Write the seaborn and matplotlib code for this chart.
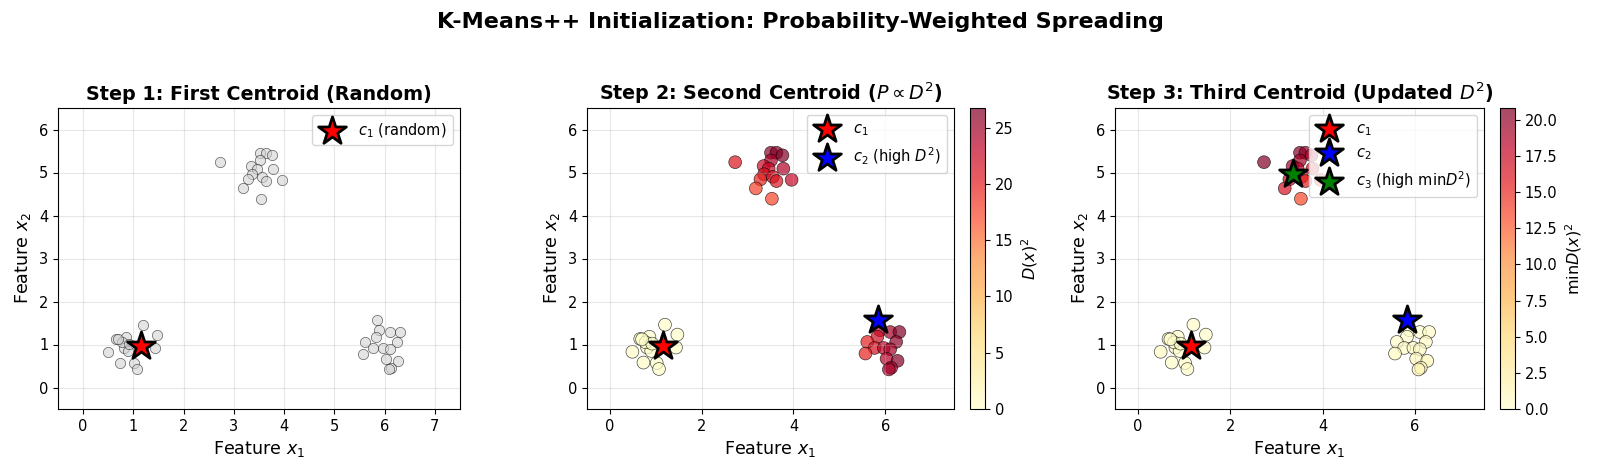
import numpy as np
import seaborn as sns
import matplotlib.pyplot as plt
from matplotlib.cm import ScalarMappable

# points, three blobs
blob_a_x = [0.49, 0.66, 0.73, 0.86, 0.81, 0.90, 0.78, 1.02, 1.07, 1.20, 1.47, 1.44, 0.92, 1.15, 0.70]
blob_a_y = [0.83, 1.13, 0.58, 1.18, 0.93, 0.85, 1.05, 0.57, 0.43, 1.46, 1.23, 0.93, 1.02, 0.96, 1.12]
blob_b_x = [2.73, 3.51, 3.63, 3.76, 3.51, 3.35, 3.46, 3.78, 3.36, 3.28, 3.55, 3.63, 3.96, 3.18, 3.53]
blob_b_y = [5.24, 5.46, 5.46, 5.40, 5.28, 5.15, 5.09, 5.09, 4.96, 4.84, 4.90, 4.80, 4.83, 4.63, 4.39]
blob_c_x = [5.84, 5.89, 5.83, 6.11, 6.31, 6.24, 5.61, 5.77, 5.97, 6.11, 5.57, 6.03, 6.27, 6.13, 6.08]
blob_c_y = [1.56, 1.33, 1.18, 1.29, 1.29, 1.06, 1.06, 0.92, 0.92, 0.89, 0.79, 0.67, 0.62, 0.46, 0.42]

c1 = (1.15, 0.96)
c2 = (5.84, 1.56)
c3 = (3.36, 4.96)

X = np.column_stack([blob_a_x + blob_b_x + blob_c_x, blob_a_y + blob_b_y + blob_c_y])

d2_c1 = ((X - np.array(c1)) ** 2).sum(axis=1)
d2_c2 = ((X - np.array(c2)) ** 2).sum(axis=1)
min_d2 = np.minimum(d2_c1, d2_c2)

fig = plt.figure(figsize=(16, 4.74), dpi=100)
W, H = 1600, 474


def box(l, t, r, b):
    return [l / W, 1 - b / H, (r - l) / W, (b - t) / H]


ax1 = fig.add_axes(box(58, 108, 460, 409))
ax2 = fig.add_axes(box(587, 108, 954, 409))
cax2 = fig.add_axes(box(970, 108, 985, 409))
ax3 = fig.add_axes(box(1115, 108, 1484, 409))
cax3 = fig.add_axes(box(1500, 108, 1515, 409))


def star(ax, c, color, label):
    sns.scatterplot(x=[c[0]], y=[c[1]], ax=ax, marker="*", s=440, color=color,
                    edgecolor="black", linewidth=2, label=label, zorder=5)


# step 1
sns.scatterplot(x=X[:, 0], y=X[:, 1], ax=ax1, color="lightgray", alpha=0.6, s=55,
                edgecolor="black", linewidth=0.5)
star(ax1, c1, "red", r"$c_1$ (random)")
ax1.set_title("Step 1: First Centroid (Random)", fontsize=13.8, fontweight="bold")
ax1.set_xticks(range(0, 8))

# step 2
norm2 = plt.Normalize(d2_c1.min(), d2_c1.max())
sns.scatterplot(x=X[:, 0], y=X[:, 1], ax=ax2, hue=d2_c1, palette="YlOrRd", hue_norm=norm2,
                alpha=0.7, s=85, edgecolor="black", linewidth=0.5, legend=False)
star(ax2, c1, "red", r"$c_1$")
star(ax2, c2, "blue", r"$c_2$ (high $D^2$)")
ax2.set_title(r"Step 2: Second Centroid ($P \propto D^2$)", fontsize=13.8, fontweight="bold")
cb2 = fig.colorbar(ScalarMappable(norm=norm2, cmap="YlOrRd"), cax=cax2, alpha=0.7)
cb2.set_label(r"$D(x)^2$", fontsize=11.5)

# step 3
norm3 = plt.Normalize(min_d2.min(), min_d2.max())
sns.scatterplot(x=X[:, 0], y=X[:, 1], ax=ax3, hue=min_d2, palette="YlOrRd", hue_norm=norm3,
                alpha=0.7, s=85, edgecolor="black", linewidth=0.5, legend=False)
star(ax3, c1, "red", r"$c_1$")
star(ax3, c2, "blue", r"$c_2$")
star(ax3, c3, "green", r"$c_3$ (high min$D^2$)")
ax3.set_title(r"Step 3: Third Centroid (Updated $D^2$)", fontsize=13.8, fontweight="bold")
cb3 = fig.colorbar(ScalarMappable(norm=norm3, cmap="YlOrRd"), cax=cax3, alpha=0.7)
cb3.set_label(r"min$D(x)^2$", fontsize=11.5)

for cb in (cb2, cb3):
    cb.ax.tick_params(labelsize=10.5)

for ax in (ax1, ax2, ax3):
    ax.set_xlim(-0.5, 7.5)
    ax.set_ylim(-0.5, 6.5)
    ax.set_xlabel(r"Feature $x_1$", fontsize=12.6)
    ax.set_ylabel(r"Feature $x_2$", fontsize=12.6)
    ax.tick_params(labelsize=10.5)
    ax.grid(True, alpha=0.3)
    ax.legend(loc="upper right", fontsize=10.5)
for ax in (ax2, ax3):
    ax.set_xticks([0, 2, 4, 6])

fig.suptitle("K-Means++ Initialization: Probability-Weighted Spreading",
             fontsize=16, fontweight="bold", y=1 - 22 / H, va="center")

plt.savefig("out.png", dpi=100)
